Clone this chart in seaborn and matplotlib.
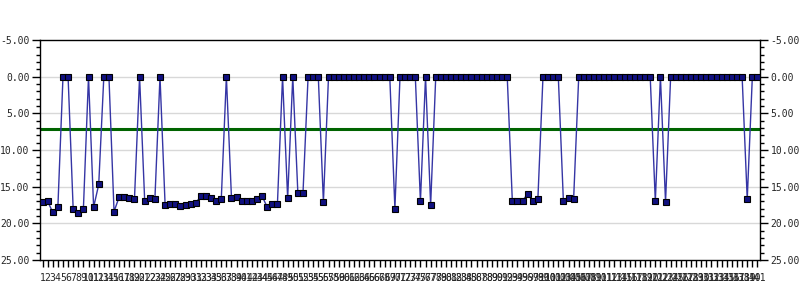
import matplotlib
matplotlib.use("Agg")
import matplotlib.pyplot as plt
import seaborn as sns
import numpy as np
import pandas as pd
from matplotlib.ticker import MultipleLocator, FormatStrFormatter

labels = [str(i) for i in range(1, 142)]
values = [
    17.1, 17.0, 18.5, 17.8, 0, 0, 18.1, 18.6, 18.0, 0,
    17.8, 14.7, 0, 0, 18.4, 16.4, 16.4, 16.6, 16.7, 0,
    16.9, 16.6, 16.7, 0, 17.5, 17.3, 17.4, 17.6, 17.5, 17.4,
    17.2, 16.3, 16.3, 16.5, 16.9, 16.7, 0, 16.6, 16.4, 17.0,
    16.9, 16.9, 16.7, 16.3, 17.8, 17.4, 17.3, 0, 16.6, 0,
    15.9, 15.9, 0, 0, 0, 17.1, 0, 0, 0, 0,
    0, 0, 0, 0, 0, 0, 0, 0, 0, 18.0,
    0, 0, 0, 0, 17.0, 0, 17.5, 0, 0, 0,
    0, 0, 0, 0, 0, 0, 0, 0, 0, 0,
    0, 0, 17.0, 17.0, 16.9, 16.0, 17.0, 16.7, 0, 0,
    0, 0, 17.0, 16.6, 16.7, 0, 0, 0, 0, 0,
    0, 0, 0, 0, 0, 0, 0, 0, 0, 0,
    17.0, 0, 17.1, 0, 0, 0, 0, 0, 0, 0,
    0, 0, 0, 0, 0, 0, 0, 0, 16.7, 0,
    0,
]
threshold = 7.1

df = pd.DataFrame({"pos": np.arange(len(labels)), "value": values})

sns.set_theme(style="white")
plt.rcParams["font.family"] = ["DejaVu Sans Mono", "DejaVu Sans"]

fig = plt.figure(figsize=(8, 3), dpi=100)
ax = fig.add_axes([0.05, 0.1333, 0.90, 0.7333])

for y in [0, 5, 10, 15, 20]:
    ax.axhline(y, color="#d8d8d8", lw=1, zorder=0)

ax.axhline(threshold, color="#006400", lw=2.2, zorder=2)

sns.lineplot(data=df, x="pos", y="value", ax=ax, color="#3535a5", lw=1,
             marker="s", markersize=4, markerfacecolor="#101080",
             markeredgecolor="black", markeredgewidth=0.8, zorder=3)

ax.set_xlim(-0.5, len(labels) - 0.5)
ax.set_ylim(25, -5)
ax.set_xticks(df["pos"])
ax.set_xticklabels(labels, fontsize=7)
ax.set_xlabel("")
ax.set_ylabel("")

ax.yaxis.set_major_locator(MultipleLocator(5))
ax.yaxis.set_minor_locator(MultipleLocator(1))
ax.yaxis.set_major_formatter(FormatStrFormatter("%.2f"))
ax.tick_params(axis="y", which="major", length=6, width=1, color="black",
               left=True, right=True, labelleft=True, labelright=True, labelsize=7, pad=1.5)
ax.tick_params(axis="y", which="minor", length=3, width=1, color="black",
               left=True, right=True)
ax.tick_params(axis="x", which="major", length=5, width=1, color="black",
               bottom=True, pad=4)

for s in ax.spines.values():
    s.set_visible(True)
    s.set_color("black")
    s.set_linewidth(1)

fig.savefig("out.png", dpi=100)
